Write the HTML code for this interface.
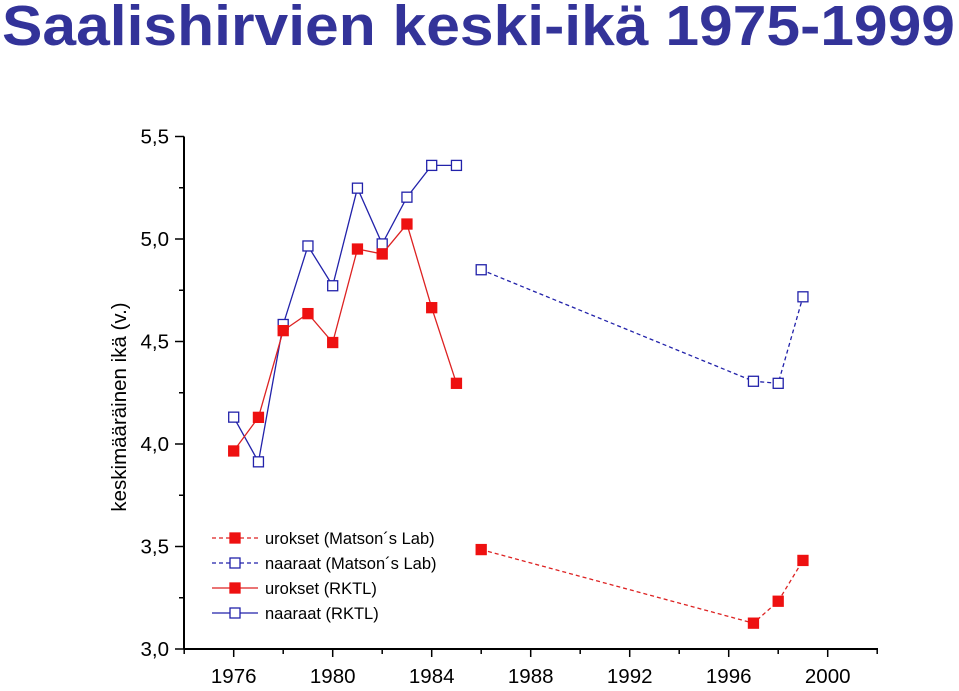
<!DOCTYPE html>
<html><head><meta charset="utf-8"><style>
body{margin:0;background:#fff;width:959px;height:686px;overflow:hidden;font-family:"Liberation Sans",sans-serif}
</style></head><body>
<svg width="959" height="686" xmlns="http://www.w3.org/2000/svg" font-family="Liberation Sans, sans-serif">
<text x="2" y="45" font-size="57" font-weight="bold" fill="#333399" textLength="953" lengthAdjust="spacingAndGlyphs">Saalishirvien keski-ikä 1975-1999</text>
<text transform="translate(126,407) rotate(-90)" text-anchor="middle" font-size="20.5">keskimääräinen ikä (v.)</text>
<g id="axes"></g><g id="series"></g><g id="legend"></g>
</svg>
<script>
const years=[1976,1977,1978,1979,1980,1981,1982,1983,1984,1985];
const malesRKTL=[3.966,4.13,4.553,4.636,4.495,4.951,4.927,5.073,4.665,4.296];
const femalesRKTL=[4.131,3.913,4.583,4.966,4.772,5.248,4.976,5.204,5.359,5.359];
const yearsMatson=[1986,1997,1998,1999];
const malesMatson=[3.485,3.126,3.233,3.432];
const femalesMatson=[4.85,4.306,4.296,4.718];
const xTicks=[1976,1980,1984,1988,1992,1996,2000];
const yTicks=[3.0,3.5,4.0,4.5,5.0,5.5];
const NS="http://www.w3.org/2000/svg";
function X(v){return 233.7+(v-1976)*24.75;}
function Y(v){return 649-(v-3)*205;}
function mk(tag,a,p){const e=document.createElementNS(NS,tag);for(const k in a)e.setAttribute(k,a[k]);p.appendChild(e);return e;}
const ax=document.getElementById('axes');
let l=mk('line',{x1:184,y1:Y(5.5),x2:184,y2:649,stroke:'#000','stroke-width':2},ax);


l=mk('line',{x1:184,y1:649,x2:878,y2:649,stroke:'#000','stroke-width':2},ax);


for(let y=3;y<=5.51;y+=0.25){mk('line',{x1:184,x2:Math.abs(y*2-Math.round(y*2))<0.01?175:179,y1:Y(y),y2:Y(y),stroke:'#000','stroke-width':1.5},ax);}
for(let yr=1974;yr<=2002;yr+=2){mk('line',{x1:X(yr),x2:X(yr),y1:649,y2:yr%4===0?657:654,stroke:'#000','stroke-width':1.5},ax);}
yTicks.forEach(v=>{const t=mk('text',{x:169,y:Y(v)+7,'text-anchor':'end','font-size':20.5},ax);t.textContent=v.toFixed(1).replace('.',',');

});
xTicks.forEach(v=>{const t=mk('text',{x:X(v),y:683,'text-anchor':'middle','font-size':20.5},ax);t.textContent=v;

});
const sg=document.getElementById('series');
function series(xs,ys,color,dash,filled,name){
 const g=mk('g',{},sg);
 
 
 mk('polyline',{points:xs.map((x,i)=>X(x)+','+Y(ys[i])).join(' '),fill:'none',stroke:color,'stroke-width':1.3,'stroke-dasharray':dash||''},g);
 xs.forEach((x,i)=>{const r=mk('rect',{x:X(x)-5,y:Y(ys[i])-5,width:10,height:10,fill:filled?'#ee1111':'#fff',stroke:filled?'#ee1111':'#2222aa','stroke-width':1.3},g);
 
 });
}
series(yearsMatson,femalesMatson,'#2222aa','4,3',false,'naaraat-matson');
series(yearsMatson,malesMatson,'#dd2222','4,3',true,'urokset-matson');
series(years,femalesRKTL,'#2222aa','',false,'naaraat-rktl');
series(years,malesRKTL,'#dd2222','',true,'urokset-rktl');
const lg=document.getElementById('legend');
const items=[['urokset (Matson´s Lab)','#dd2222','4,3',true],['naaraat (Matson´s Lab)','#2222aa','4,3',false],['urokset (RKTL)','#dd2222','',true],['naaraat (RKTL)','#2222aa','',false]];
items.forEach((it,i)=>{const y=538+i*25;const g=mk('g',{},lg);
 
 
 mk('line',{x1:212,x2:258,y1:y,y2:y,stroke:it[1],'stroke-width':1.3,'stroke-dasharray':it[2]},g);
 mk('rect',{x:230,y:y-5,width:10,height:10,fill:it[3]?'#ee1111':'#fff',stroke:it[3]?'#ee1111':'#2222aa','stroke-width':1.3},g);
 const t=mk('text',{x:265,y:y+6,'font-size':16.5},g);t.textContent=it[0];});
</script>
</body></html>
